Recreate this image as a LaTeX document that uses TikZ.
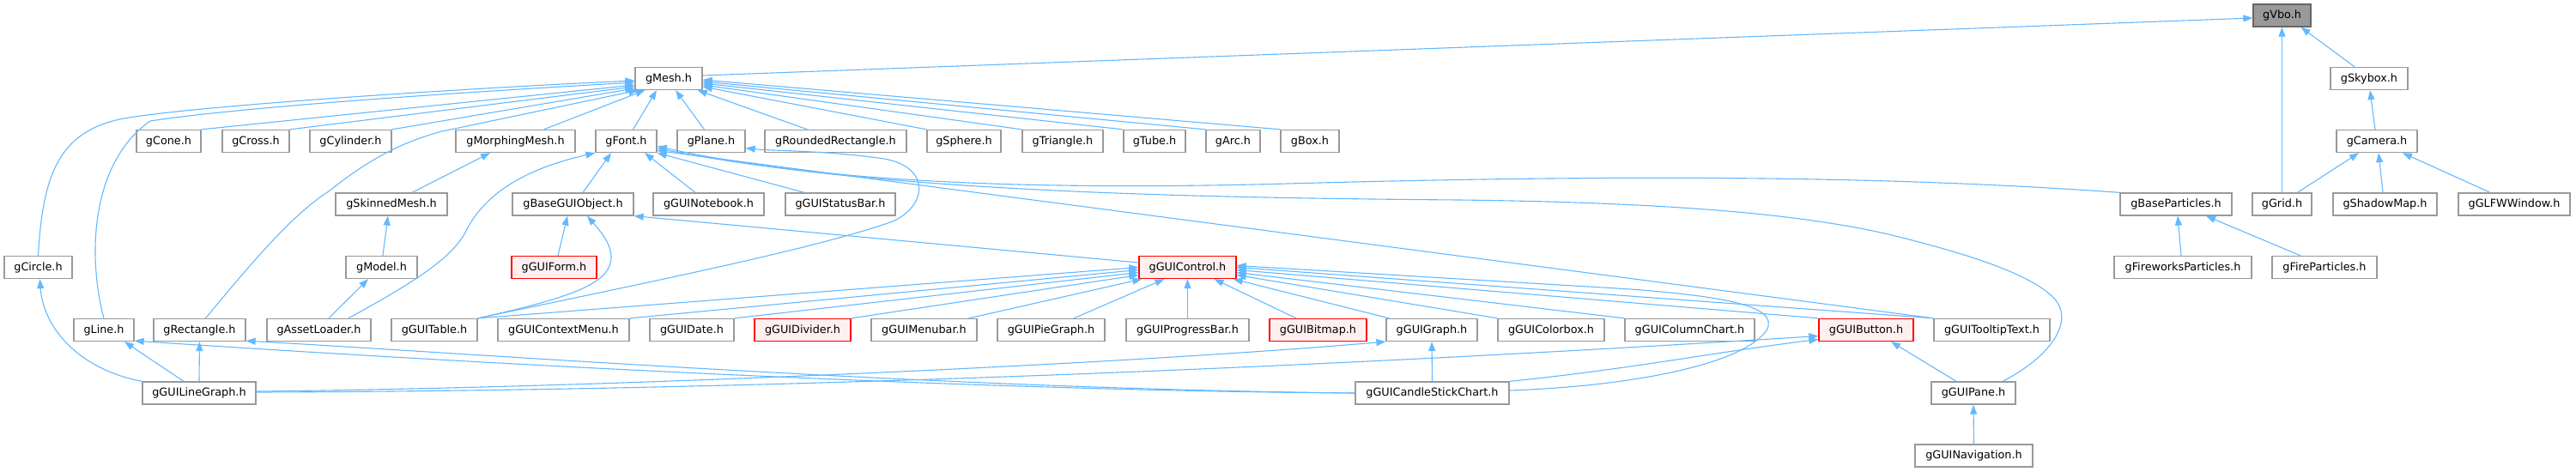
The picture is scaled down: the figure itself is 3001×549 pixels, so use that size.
\documentclass[tikz,border=0pt]{standalone}
\usepackage{fontspec}
\setmainfont{DejaVu Sans}
\usepackage{tikz}
\usetikzlibrary{arrows.meta}
\definecolor{edgeblue}{HTML}{63B8FF}
\definecolor{boxgrey}{HTML}{999999}
\definecolor{rootfill}{HTML}{999999}
\definecolor{rootline}{HTML}{666666}
\definecolor{warnline}{HTML}{FF0000}
\definecolor{warnfill}{HTML}{FFF0F0}
\begin{document}
\begin{tikzpicture}[x=1pt, y=-1pt,
  hdr/.style={draw=boxgrey, fill=white, line width=1.3pt, minimum height=26, inner sep=0pt, font=\fontsize{12.8}{15}\selectfont},
  hdrwarn/.style={hdr, draw=warnline, fill=warnfill},
  hdrroot/.style={hdr, draw=rootline, fill=rootfill},
  dep/.style={draw=edgeblue, line width=1.1pt, -{Triangle[length=11pt,width=8pt]}}]
  \useasboundingbox (0,0) rectangle (3001,549);
  \node[hdrroot, minimum width=67] (gVbo) at (2658.5,18) {gVbo.h};
  \node[hdr, minimum width=78] (gMesh) at (779,91.5) {gMesh.h};
  \node[hdr, minimum width=90] (gSkybox) at (2760,91.5) {gSkybox.h};
  \node[hdr, minimum width=75] (gCone) at (196.5,164.5) {gCone.h};
  \node[hdr, minimum width=78] (gCross) at (298,164.5) {gCross.h};
  \node[hdr, minimum width=95] (gCylinder) at (408.5,164.5) {gCylinder.h};
  \node[hdr, minimum width=139] (gMorphingMesh) at (600.5,164.5) {gMorphingMesh.h};
  \node[hdr, minimum width=71] (gFont) at (729.5,164.5) {gFont.h};
  \node[hdr, minimum width=79] (gPlane) at (828.5,164.5) {gPlane.h};
  \node[hdr, minimum width=165] (gRoundedRectangle) at (973.5,164.5) {gRoundedRectangle.h};
  \node[hdr, minimum width=86] (gSphere) at (1123,164.5) {gSphere.h};
  \node[hdr, minimum width=94] (gTriangle) at (1238,164.5) {gTriangle.h};
  \node[hdr, minimum width=72] (gTube) at (1345,164.5) {gTube.h};
  \node[hdr, minimum width=63] (gArc) at (1436.5,164.5) {gArc.h};
  \node[hdr, minimum width=68] (gBox) at (1526,164.5) {gBox.h};
  \node[hdr, minimum width=94] (gCamera) at (2769,164.5) {gCamera.h};
  \node[hdr, minimum width=130] (gSkinnedMesh) at (456,238) {gSkinnedMesh.h};
  \node[hdr, minimum width=141] (gBaseGUIObject) at (667.5,238) {gBaseGUIObject.h};
  \node[hdr, minimum width=129] (gGUINotebook) at (825.5,238) {gGUINotebook.h};
  \node[hdr, minimum width=128] (gGUIStatusBar) at (979,238) {gGUIStatusBar.h};
  \node[hdr, minimum width=130] (gBaseParticles) at (2535,238) {gBaseParticles.h};
  \node[hdr, minimum width=69] (gGrid) at (2658.5,238) {gGrid.h};
  \node[hdr, minimum width=121] (gShadowMap) at (2778.5,238) {gShadowMap.h};
  \node[hdr, minimum width=130] (gGLFWWindow) at (2929,238) {gGLFWWindow.h};
  \node[hdr, minimum width=79] (gCircle) at (44.5,311.5) {gCircle.h};
  \node[hdr, minimum width=83] (gModel) at (444.5,311.5) {gModel.h};
  \node[hdrwarn, minimum width=99] (gGUIForm) at (645.5,311.5) {gGUIForm.h};
  \node[hdrwarn, minimum width=113] (gGUIControl) at (1383.5,311.5) {gGUIControl.h};
  \node[hdr, minimum width=160] (gFireworksParticles) at (2543,311.5) {gFireworksParticles.h};
  \node[hdr, minimum width=122] (gFireParticles) at (2708,311.5) {gFireParticles.h};
  \node[hdr, minimum width=70] (gLine) at (121,384.5) {gLine.h};
  \node[hdr, minimum width=107] (gRectangle) at (232.5,384.5) {gRectangle.h};
  \node[hdr, minimum width=121] (gAssetLoader) at (371.5,384.5) {gAssetLoader.h};
  \node[hdr, minimum width=100] (gGUITable) at (506,384.5) {gGUITable.h};
  \node[hdr, minimum width=153] (gGUIContextMenu) at (656.5,384.5) {gGUIContextMenu.h};
  \node[hdr, minimum width=98] (gGUIDate) at (806,384.5) {gGUIDate.h};
  \node[hdrwarn, minimum width=112] (gGUIDivider) at (935,384.5) {gGUIDivider.h};
  \node[hdr, minimum width=123] (gGUIMenubar) at (1076.5,384.5) {gGUIMenubar.h};
  \node[hdr, minimum width=125] (gGUIPieGraph) at (1224.5,384.5) {gGUIPieGraph.h};
  \node[hdr, minimum width=143] (gGUIProgressBar) at (1383.5,384.5) {gGUIProgressBar.h};
  \node[hdrwarn, minimum width=113] (gGUIBitmap) at (1535.5,384.5) {gGUIBitmap.h};
  \node[hdr, minimum width=106] (gGUIGraph) at (1668,384.5) {gGUIGraph.h};
  \node[hdr, minimum width=124] (gGUIColorbox) at (1807,384.5) {gGUIColorbox.h};
  \node[hdr, minimum width=151] (gGUIColumnChart) at (1968.5,384.5) {gGUIColumnChart.h};
  \node[hdrwarn, minimum width=110] (gGUIButton) at (2174,384.5) {gGUIButton.h};
  \node[hdr, minimum width=135] (gGUITooltipText) at (2320.5,384.5) {gGUITooltipText.h};
  \node[hdr, minimum width=132] (gGUILineGraph) at (232,458) {gGUILineGraph.h};
  \node[hdr, minimum width=179] (gGUICandleStickChart) at (1668.5,458) {gGUICandleStickChart.h};
  \node[hdr, minimum width=98] (gGUIPane) at (2299,458) {gGUIPane.h};
  \node[hdr, minimum width=137] (gGUINavigation) at (2299.5,531) {gGUINavigation.h};
  \draw[dep] ([yshift=3.5]gMesh.east) -- ([yshift=-3]gVbo.west);
  \draw[dep] ([xshift=-17]gSkybox.north) -- ([xshift=22]gVbo.south);
  \draw[dep] (gGrid.north) -- (gVbo.south);
  \draw[dep] ([xshift=-2]gCamera.north) -- ([xshift=1]gSkybox.south);
  \draw[dep] ([xshift=18]gGrid.north) -- ([xshift=-21]gCamera.south);
  \draw[dep] ([xshift=-2.5]gShadowMap.north) -- ([xshift=2]gCamera.south);
  \draw[dep] ([xshift=-28]gGLFWWindow.north) -- ([xshift=30]gCamera.south);
  \draw[dep] (gCircle.north) .. controls (50,200) and (70,150) .. (150,137) .. controls (260,120) and (600,100) .. ([yshift=-2.5]gMesh.west);
  \draw[dep] (gLine.north) .. controls (102,300) and (105,190) .. (175,141) .. controls (300,122) and (600,104) .. ([yshift=-4.5]gMesh.west);
  \draw[dep] (gCone.north east) -- ([yshift=-7.5]gMesh.west);
  \draw[dep] (gCross.north east) -- ([yshift=-9.5]gMesh.west);
  \draw[dep] (gCylinder.north east) -- ([yshift=-11.5]gMesh.west);
  \draw[dep] ([xshift=7]gRectangle.north) .. controls (290,310) and (340,250) .. (383,223) .. controls (430,185) and (470,165) .. (515,153) -- ([xshift=4]gMesh.south west);
  \draw[dep] ([xshift=33]gMorphingMesh.north) -- ([xshift=12]gMesh.south west);
  \draw[dep] ([xshift=8]gFont.north) -- ([xshift=-14]gMesh.south);
  \draw[dep] ([xshift=-8]gPlane.north) -- ([xshift=8]gMesh.south);
  \draw[dep] ([xshift=-33]gRoundedRectangle.north) -- ([xshift=-6]gMesh.south east);
  \draw[dep] (gSphere.north west) -- ([yshift=-9.5]gMesh.east);
  \draw[dep] (gTriangle.north west) -- ([yshift=-7.5]gMesh.east);
  \draw[dep] (gTube.north west) -- ([yshift=-5.5]gMesh.east);
  \draw[dep] (gArc.north west) -- ([yshift=-3.5]gMesh.east);
  \draw[dep] (gBox.north west) -- ([yshift=-1.5]gMesh.east);
  \draw[dep] ([xshift=24]gSkinnedMesh.north) -- ([xshift=-29.5]gMorphingMesh.south);
  \draw[dep] ([xshift=11.5]gBaseGUIObject.north) -- ([xshift=-17.5]gFont.south);
  \draw[dep] ([xshift=-15.5]gGUINotebook.north) -- ([xshift=21.5]gFont.south);
  \draw[dep] ([xshift=-42]gGUIStatusBar.north) -- (gFont.south east);
  \draw[dep] (gBaseParticles.north west) .. controls (2200,205) and (1900,203) .. (1500,214) .. controls (1100,225) and (900,200) .. ([yshift=-6]gFont.east);
  \draw[dep] ([xshift=34]gGUIPane.north) .. controls (2390,415) and (2415,375) .. (2395,350) .. controls (2370,320) and (2290,295) .. (2200,273) .. controls (2100,250) and (1950,236) .. (1700,233) .. controls (1300,230) and (1000,218) .. ([yshift=-8.5]gFont.east);
  \draw[dep] (gGUITooltipText.north west) -- ([yshift=-11]gFont.east);
  \draw[dep] ([xshift=34.5]gAssetLoader.north) .. controls (480,330) and (530,300) .. (545,265) .. controls (570,220) and (620,195) .. (gFont.south west);
  \draw[dep] (gGUITable.north east) .. controls (750,330) and (950,290) .. (1040,258) .. controls (1080,240) and (1085,195) .. (1030,185) .. controls (960,175) and (900,176) .. ([yshift=-8]gPlane.east);
  \draw[dep] (gGUITable.north east) .. controls (650,350) and (700,335) .. (710,310) .. controls (718,290) and (700,270) .. ([xshift=16.5]gBaseGUIObject.south);
  \draw[dep] ([yshift=5.5]gGUIControl.west) -- (gBaseGUIObject.south east);
  \draw[dep] ([xshift=4.5]gGUIForm.north) -- ([xshift=-6.5]gBaseGUIObject.south);
  \draw[dep] ([xshift=1.5]gModel.north) -- ([xshift=-4]gSkinnedMesh.south);
  \draw[dep] ([xshift=11.5]gAssetLoader.north) -- ([xshift=-15.5]gModel.south);
  \draw[dep] ([xshift=-2]gFireworksParticles.north) -- ([xshift=2]gBaseParticles.south);
  \draw[dep] ([xshift=-28]gFireParticles.north) -- ([xshift=35]gBaseParticles.south);
  \draw[dep] (gGUITable.north east) -- (gGUIControl.west);
  \draw[dep] (gGUIContextMenu.north east) -- ([yshift=-3]gGUIControl.west);
  \draw[dep] (gGUIDate.north east) -- ([yshift=-6]gGUIControl.west);
  \draw[dep] (gGUIDivider.north east) -- ([yshift=-9]gGUIControl.west);
  \draw[dep] ([xshift=52]gGUIMenubar.north) -- ([xshift=4]gGUIControl.south west);
  \draw[dep] ([xshift=26.5]gGUIPieGraph.north) -- ([xshift=-27]gGUIControl.south);
  \draw[dep] (gGUIProgressBar.north) -- (gGUIControl.south);
  \draw[dep] ([xshift=-25.5]gGUIBitmap.north) -- ([xshift=31]gGUIControl.south);
  \draw[dep] ([xshift=4]gGUIGraph.north west) -- ([xshift=-4]gGUIControl.south east);
  \draw[dep] (gGUIColorbox.north west) -- ([yshift=-9]gGUIControl.east);
  \draw[dep] (gGUIColumnChart.north west) -- ([yshift=-6]gGUIControl.east);
  \draw[dep] (gGUIButton.north west) -- ([yshift=-3]gGUIControl.east);
  \draw[dep] (gGUITooltipText.north west) -- (gGUIControl.east);
  \draw[dep] ([yshift=3]gGUICandleStickChart.east) .. controls (1900,450) and (2030,425) .. (2058,385) .. controls (2075,355) and (2000,345) .. (1900,337) .. controls (1700,325) and (1550,316) .. ([yshift=2]gGUIControl.east);
  \draw[dep] (gGUILineGraph.north west) .. controls (90,430) and (50,380) .. ([xshift=2]gCircle.south);
  \draw[dep] ([xshift=-18]gGUILineGraph.north) -- ([xshift=24]gLine.south);
  \draw[dep] (gGUILineGraph.north) -- (gRectangle.south);
  \draw[dep] ([yshift=2]gGUILineGraph.east) .. controls (700,452) and (1300,425) .. (gGUIGraph.south west);
  \draw[dep] ([yshift=1]gGUILineGraph.east) .. controls (1000,455) and (1700,418) .. ([yshift=-7]gGUIButton.west);
  \draw[dep] (gGUICandleStickChart.west) .. controls (1100,455) and (500,420) .. ([yshift=1]gLine.south east);
  \draw[dep] (gGUICandleStickChart.west) .. controls (1100,453) and (600,415) .. ([yshift=1]gRectangle.south east);
  \draw[dep] (gGUICandleStickChart.north) -- (gGUIGraph.south);
  \draw[dep] (gGUICandleStickChart.north east) .. controls (1900,430) and (2000,410) .. ([yshift=-11]gGUIButton.west);
  \draw[dep] ([xshift=-20]gGUIPane.north) -- ([xshift=29]gGUIButton.south);
  \draw[dep] (gGUINavigation.north) -- (gGUIPane.south);
\end{tikzpicture}
\end{document}
